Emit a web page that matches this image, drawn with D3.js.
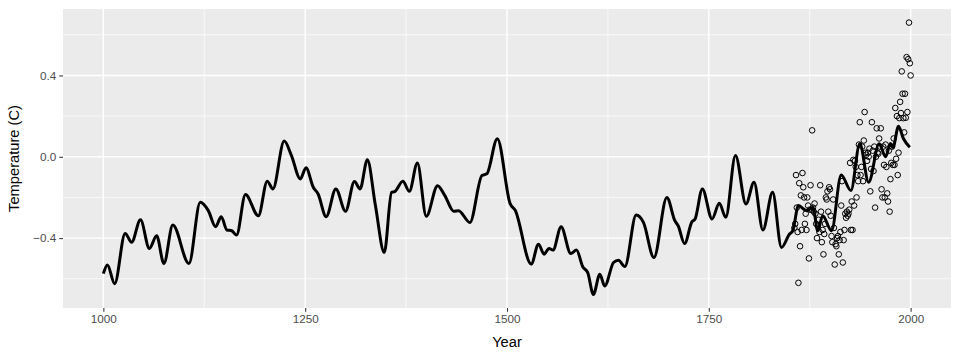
<!DOCTYPE html>
<html>
<head>
<meta charset="utf-8">
<script src="https://cdn.jsdelivr.net/npm/d3@7"></script>
<style>
  html, body { margin: 0; padding: 0; background: #fff; }
  svg { display: block; font-family: "Liberation Sans", Arial, sans-serif; }
</style>
</head>
<body>
<svg id="chart" width="960" height="360"></svg>
<script>
// Smoothed reconstruction (year, temperature)
const reconYears = [1000,1005,1014,1027,1035,1046,1057,1066,1075,1086,1106,1120,1130,1139,1146,1153,1159,1165,1176,1192,
  1203,1210,1224,1233,1244,1251,1260,1266,1276,1288,1300,1311,1318,1327,1337,1348,1357,1361,1371,1379,1389,1400,
  1414,1423,1434,1440,1454,1469,1475,1488,1504,1510,1530,1539,1546,1552,1557,1567,1579,1586,1594,1600,1607,
  1615,1621,1632,1638,1646,1660,1669,1682,1698,1708,1712,1720,1729,1733,1742,1754,1763,1771,1783,1796,1806,
  1817,1829,1840,1850,1854,1861,1871,1879,1885,1891,1902,1914,1926,1937,1948,1961,1969,1975,1978,1985,1991,1999];
const reconTemps = [-0.575,-0.532,-0.624,-0.377,-0.42,-0.31,-0.451,-0.389,-0.525,-0.336,-0.525,-0.224,-0.265,-0.344,-0.295,-0.36,-0.364,-0.385,-0.186,-0.29,
  -0.12,-0.158,0.077,0.006,-0.109,-0.054,-0.15,-0.183,-0.295,-0.158,-0.268,-0.122,-0.158,-0.015,-0.24,-0.471,-0.175,-0.171,-0.12,-0.17,-0.031,-0.293,
  -0.142,-0.191,-0.268,-0.265,-0.323,-0.092,-0.084,0.089,-0.232,-0.262,-0.528,-0.43,-0.479,-0.451,-0.459,-0.344,-0.476,-0.459,-0.542,-0.57,-0.677,
  -0.578,-0.636,-0.52,-0.509,-0.54,-0.287,-0.323,-0.496,-0.2,-0.315,-0.339,-0.427,-0.32,-0.306,-0.158,-0.306,-0.229,-0.298,0.006,-0.232,-0.125,
  -0.36,-0.175,-0.446,-0.38,-0.364,-0.24,-0.265,-0.249,-0.364,-0.29,-0.364,-0.09,-0.166,0.064,-0.125,0.064,0.0,0.065,0.045,0.15,0.09,0.047];

// Observed annual temperatures
const obsYears = d3.range(1856, 2001);
const obsTemps = [
  -0.35,-0.33,-0.09,-0.25,-0.37,-0.62,-0.13,-0.44,-0.19,-0.36,
  -0.08,-0.15,-0.20,-0.33,-0.28,-0.36,-0.20,-0.24,-0.50,-0.26,
  -0.14,-0.26,0.13,-0.25,-0.27,-0.23,-0.28,-0.33,-0.40,-0.34,
  -0.31,-0.37,-0.14,-0.27,-0.42,-0.36,-0.48,-0.38,-0.33,-0.20,
  -0.21,-0.17,-0.27,-0.15,-0.16,-0.29,-0.39,-0.42,-0.21,-0.35,
  -0.53,-0.43,-0.44,-0.40,-0.39,-0.48,-0.41,-0.37,-0.24,-0.12,
  -0.52,-0.41,-0.36,-0.28,-0.30,-0.27,-0.29,-0.28,-0.26,-0.03,
  -0.36,-0.22,-0.36,-0.015,-0.24,-0.02,-0.05,-0.20,-0.09,-0.12,
  0.06,0.17,-0.09,-0.05,0.05,-0.12,0.08,0.22,0.02,0.01,
  -0.02,0.02,0.00,0.04,-0.17,-0.06,0.17,0.03,-0.07,0.05,
  -0.25,0.00,0.14,0.02,0.015,0.09,0.05,0.14,-0.16,-0.20,
  0.05,-0.04,-0.20,0.06,-0.05,-0.18,-0.22,0.03,-0.27,-0.11,
  -0.03,0.05,-0.04,0.09,-0.04,0.24,-0.01,0.20,-0.09,0.02,
  0.19,0.27,0.215,0.42,0.31,0.19,0.12,0.31,0.192,0.49,
  0.22,0.48,0.66,0.46,0.40];

const xBreaks = [1000, 1250, 1500, 1750, 2000];
const xMinor = [1125, 1375, 1625, 1875];
const yBreaks = [-0.4, 0.0, 0.4];
const yMinor = [-0.6, -0.2, 0.2, 0.6];
const xTitle = "Year";
const yTitle = "Temperature (C)";

const recon = reconYears.map((y, i) => ({year: y, temp: reconTemps[i]}));
const obs = obsYears.map((y, i) => ({year: y, temp: obsTemps[i]}));

const panel = {left: 63, right: 951, top: 9, bottom: 308};
const svg = d3.select("#chart");

function expand(ext) { const r = ext[1] - ext[0]; return [ext[0] - 0.05 * r, ext[1] + 0.05 * r]; }
const allYears = reconYears.concat(obsYears);
const allTemps = reconTemps.concat(obsTemps);
const x = d3.scaleLinear().domain(expand(d3.extent(allYears))).range([panel.left, panel.right]);
const y = d3.scaleLinear().domain(expand(d3.extent(allTemps))).range([panel.bottom, panel.top]);

svg.append("rect").attr("x", panel.left).attr("y", panel.top)
  .attr("width", panel.right - panel.left).attr("height", panel.bottom - panel.top)
  .attr("fill", "#EBEBEB");

const grid = svg.append("g");
grid.selectAll(".xminor").data(xMinor).join("line")
  .attr("x1", d => x(d)).attr("x2", d => x(d)).attr("y1", panel.top).attr("y2", panel.bottom)
  .attr("stroke", "#fff").attr("stroke-width", 0.7);
grid.selectAll(".yminor").data(yMinor).join("line")
  .attr("y1", d => y(d)).attr("y2", d => y(d)).attr("x1", panel.left).attr("x2", panel.right)
  .attr("stroke", "#fff").attr("stroke-width", 0.7);
grid.selectAll(".xmajor").data(xBreaks).join("line")
  .attr("x1", d => x(d)).attr("x2", d => x(d)).attr("y1", panel.top).attr("y2", panel.bottom)
  .attr("stroke", "#fff").attr("stroke-width", 1.4);
grid.selectAll(".ymajor").data(yBreaks).join("line")
  .attr("y1", d => y(d)).attr("y2", d => y(d)).attr("x1", panel.left).attr("x2", panel.right)
  .attr("stroke", "#fff").attr("stroke-width", 1.4);

// points
svg.append("g").selectAll("circle").data(obs).join("circle")
  .attr("cx", d => x(d.year)).attr("cy", d => y(d.temp)).attr("r", 2.8)
  .attr("fill", "none").attr("stroke", "#000").attr("stroke-width", 1);

// line
const line = d3.line().x(d => x(d.year)).y(d => y(d.temp)).curve(d3.curveMonotoneX);
svg.append("path").datum(recon).attr("d", line)
  .attr("fill", "none").attr("stroke", "#000").attr("stroke-width", 3)
  .attr("stroke-linejoin", "round").attr("stroke-linecap", "butt");

// axes
const xAxis = d3.axisBottom(x).tickValues(xBreaks).tickFormat(d3.format("d")).tickSize(3.7).tickPadding(3);
const gx = svg.append("g").attr("transform", `translate(0,${panel.bottom})`).call(xAxis);
const yAxis = d3.axisLeft(y).tickValues(yBreaks).tickFormat(d3.format(".1f")).tickSize(3.7).tickPadding(3);
const gy = svg.append("g").attr("transform", `translate(${panel.left},0)`).call(yAxis);
[gx, gy].forEach(g => {
  g.select(".domain").remove();
  g.selectAll(".tick line").attr("stroke", "#333333").attr("stroke-width", 1.07);
  g.selectAll(".tick text").attr("fill", "#4D4D4D").style("font-size", "11.7px")
    .style("font-family", '"Liberation Sans", Arial, sans-serif');
});

svg.append("text").attr("x", (panel.left + panel.right) / 2).attr("y", 347)
  .attr("text-anchor", "middle").attr("fill", "#000").style("font-size", "14.7px").text(xTitle);
svg.append("text").attr("transform", `translate(19,${(panel.top + panel.bottom) / 2}) rotate(-90)`)
  .attr("text-anchor", "middle").attr("fill", "#000").style("font-size", "14.7px").text(yTitle);
</script>
</body>
</html>
